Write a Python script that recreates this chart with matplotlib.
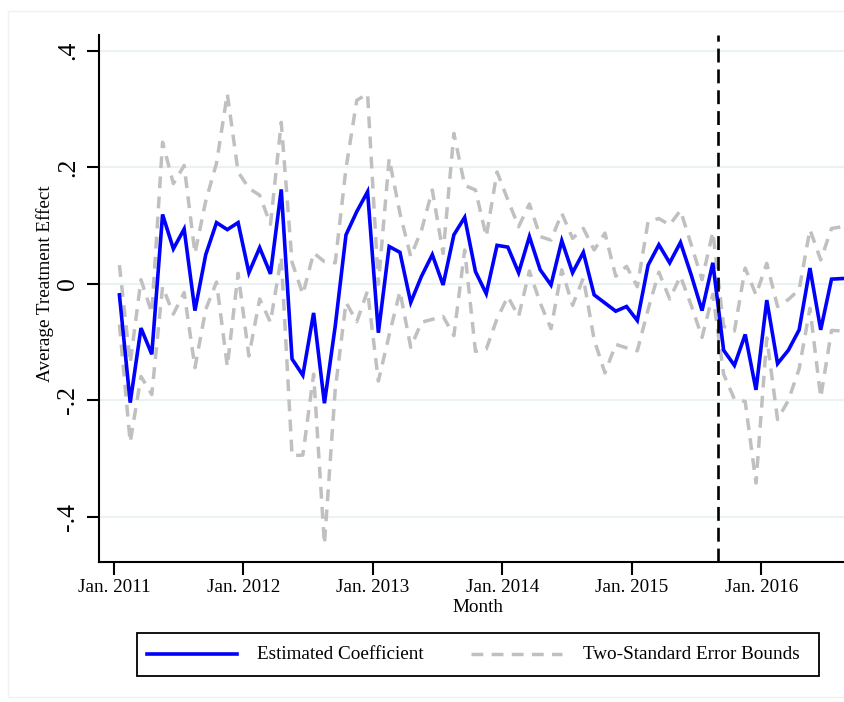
import matplotlib
matplotlib.use("Agg")
import matplotlib.pyplot as plt
from matplotlib.lines import Line2D
from matplotlib.patches import Rectangle
import numpy as np

plt.rcParams['font.family'] = ['Liberation Serif', 'DejaVu Serif']
plt.rcParams['lines.scale_dashes'] = False

# Monthly estimates, Jan. 2011 through Aug. 2016
coef = [-0.019, -0.204, -0.076, -0.121, 0.119, 0.060, 0.094, -0.046, 0.050, 0.105,
        0.093, 0.105, 0.019, 0.062, 0.017, 0.162, -0.129, -0.157, -0.050, -0.205,
        -0.073, 0.084, 0.124, 0.158, -0.084, 0.064, 0.054, -0.032, 0.013, 0.050,
        -0.002, 0.084, 0.114, 0.021, -0.017, 0.066, 0.063, 0.019, 0.081, 0.024,
        -0.002, 0.074, 0.019, 0.054, -0.019, -0.033, -0.047, -0.039, -0.063, 0.032,
        0.067, 0.036, 0.071, 0.015, -0.046, 0.036, -0.114, -0.140, -0.087, -0.182,
        -0.028, -0.137, -0.114, -0.079, 0.027, -0.079, 0.008, 0.009]
upper = [0.032, -0.136, 0.007, -0.050, 0.243, 0.172, 0.203, 0.052, 0.142, 0.207,
         0.326, 0.192, 0.164, 0.152, 0.102, 0.277, 0.037, -0.018, 0.053, 0.038,
         0.036, 0.198, 0.315, 0.326, -0.001, 0.215, 0.121, 0.047, 0.092, 0.161,
         0.052, 0.258, 0.169, 0.161, 0.081, 0.192, 0.144, 0.098, 0.137, 0.081,
         0.075, 0.121, 0.078, 0.095, 0.058, 0.087, 0.013, 0.030, -0.005, 0.107,
         0.112, 0.101, 0.126, 0.067, 0.007, 0.089, -0.073, -0.081, 0.027, -0.019,
         0.035, -0.039, -0.027, -0.010, 0.093, 0.041, 0.095, 0.098]
lower = [-0.070, -0.272, -0.159, -0.190, -0.005, -0.052, -0.015, -0.144, -0.044, 0.003,
         -0.142, 0.018, -0.124, -0.026, -0.066, 0.046, -0.295, -0.294, -0.155, -0.447,
         -0.182, -0.032, -0.065, -0.012, -0.167, -0.088, -0.013, -0.109, -0.066, -0.061,
         -0.056, -0.089, 0.058, -0.116, -0.112, -0.060, -0.022, -0.056, 0.022, -0.033,
         -0.077, 0.024, -0.037, 0.010, -0.096, -0.153, -0.104, -0.110, -0.115, -0.044,
         0.020, -0.026, 0.013, -0.037, -0.092, -0.018, -0.155, -0.198, -0.202, -0.342,
         -0.093, -0.233, -0.200, -0.146, -0.042, -0.195, -0.080, -0.081]

tick_labels = ["Jan. 2011", "Jan. 2012", "Jan. 2013", "Jan. 2014", "Jan. 2015", "Jan. 2016"]
ytick_vals = [-0.4, -0.2, 0.0, 0.2, 0.4]
ytick_labels = ["-.4", "-.2", "0", ".2", ".4"]
policy_month = 56  # Sep. 2015, months after Jan. 2011

W, H = 845, 702
fig = plt.figure(figsize=(W / 100, H / 100), dpi=100)
fig.patch.set_facecolor("white")

# faint outer graph-region frame
fig.patches.append(Rectangle((8 / W, 1 - 697 / H), (W + 20) / W, (697 - 11) / H,
                             transform=fig.transFigure, fill=False,
                             edgecolor="#eef2f3", lw=1.0))

ax = fig.add_axes([98.7 / W, 1 - 562.3 / H, 1 - 98.7 / W, (562.3 - 35) / H])
months = np.arange(len(coef)) + 0.5  # mid-month positions

gray = "#c0c0c0"
dash = (0, (8.5, 6.0))
ax.plot(months, upper, color=gray, lw=2.5, linestyle=dash, zorder=3)
ax.plot(months, lower, color=gray, lw=2.5, linestyle=dash, zorder=3)
ax.plot(months, coef, color="#0000ff", lw=2.6, zorder=4, solid_joinstyle="miter")
ax.axvline(policy_month, color="black", lw=1.9, linestyle=(0, (10.0, 5.0)), zorder=5)

ax.set_xlim(-1.42, 67.75)
ax.set_ylim(-0.478, 0.427)
ax.set_xticks([12 * i for i in range(len(tick_labels))])
ax.set_xticklabels(tick_labels, fontsize=13.8)
ax.set_yticks(ytick_vals)
ax.set_yticklabels(ytick_labels, fontsize=18.5, rotation=90, va="center")

for yv in ytick_vals:
    ax.axhline(yv, color="#eaf2f3", lw=1.5, zorder=1)

for s in ["top", "right"]:
    ax.spines[s].set_visible(False)
for s in ["left", "bottom"]:
    ax.spines[s].set_linewidth(1.5)
ax.tick_params(axis="both", length=9, width=1.5, direction="out")
ax.tick_params(axis="x", pad=3)
ax.tick_params(axis="y", pad=5)

fig.text(45 / W, 1 - 284 / H, "Average Treatment Effect", rotation=90,
         ha="center", va="center", fontsize=13.8)
fig.text(478 / W, 1 - 607 / H, "Month", ha="center", va="center", fontsize=13.8)

# legend box
lx0, ly0, lx1, ly1 = 136.7, 632.7, 819.3, 676.0
fig.patches.append(Rectangle((lx0 / W, 1 - ly1 / H), (lx1 - lx0) / W, (ly1 - ly0) / H,
                             transform=fig.transFigure, fill=False,
                             edgecolor="black", lw=1.3))
ymid = 1 - 654.3 / H
fig.lines.append(Line2D([146.7 / W, 237.3 / W], [ymid, ymid], transform=fig.transFigure,
                        color="#0000ff", lw=2.6))
fig.lines.append(Line2D([470.7 / W, 561.7 / W], [ymid, ymid], transform=fig.transFigure,
                        color=gray, lw=2.5, linestyle=dash))
fig.text(257.3 / W, ymid, "Estimated Coefficient", ha="left", va="center", fontsize=13.8)
fig.text(582.7 / W, ymid, "Two-Standard Error Bounds", ha="left", va="center", fontsize=13.8)

fig.savefig("out.png", dpi=100, facecolor="white")
